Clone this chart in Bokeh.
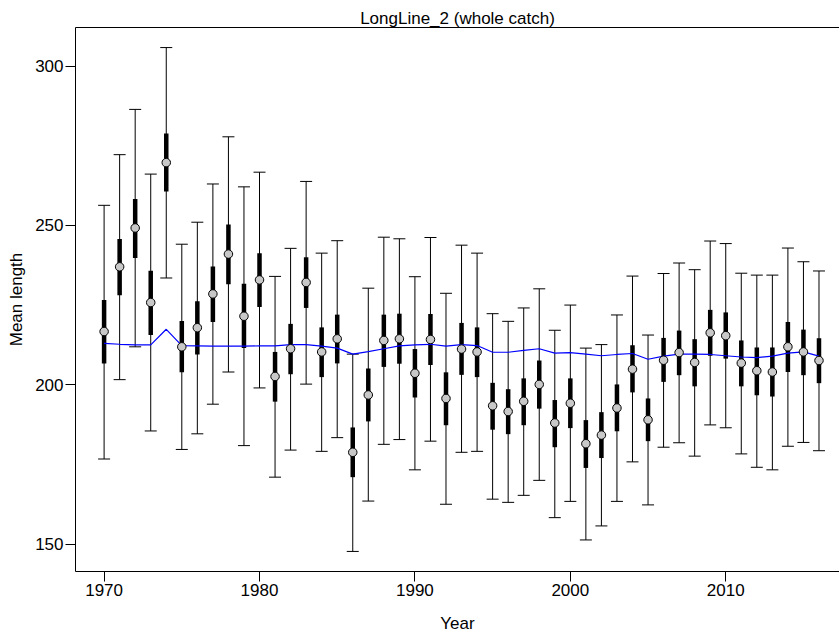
from bokeh.plotting import figure
from bokeh.models import Range1d, FixedTicker, LinearAxis, ColumnDataSource
from bokeh.embed import file_html
from bokeh.resources import INLINE

years = list(range(1970, 2017))
mean_len = [216.7, 237.0, 249.2, 225.8, 269.7, 211.9, 217.9, 228.5, 241.0, 221.5,
            232.9, 202.6, 211.3, 232.1, 210.3, 214.4, 178.8, 196.8, 213.9, 214.4,
            203.6, 214.2, 195.7, 211.2, 210.3, 193.4, 191.6, 194.8, 200.1, 188.0,
            194.2, 181.5, 184.2, 192.7, 204.9, 189.0, 207.7, 210.1, 207.0, 216.3,
            215.4, 206.8, 204.4, 204.0, 211.9, 210.3, 207.6]
inner_hi = [226.6, 245.7, 258.3, 235.8, 278.8, 220.0, 226.2, 237.1, 250.3, 231.7,
            241.3, 210.3, 219.1, 240.0, 218.0, 222.0, 186.6, 205.1, 222.0, 222.3,
            211.2, 222.2, 203.9, 219.4, 218.0, 200.6, 198.6, 202.0, 207.6, 195.2,
            202.0, 188.9, 191.4, 200.1, 212.4, 195.7, 214.7, 217.0, 214.3, 223.5,
            222.7, 213.9, 211.7, 211.7, 219.7, 217.3, 214.6]
inner_lo = [206.7, 228.1, 239.8, 215.6, 260.6, 203.9, 209.5, 219.7, 231.5, 211.5,
            224.4, 194.7, 203.3, 224.1, 202.4, 206.7, 171.0, 188.5, 205.6, 206.6,
            196.0, 206.2, 187.3, 203.1, 202.4, 185.9, 184.5, 187.3, 192.5, 180.4,
            186.4, 173.9, 177.0, 185.4, 197.6, 182.3, 200.9, 203.0, 199.5, 209.1,
            208.2, 199.5, 196.7, 196.3, 204.0, 203.0, 200.5]
outer_hi = [256.3, 272.2, 286.4, 266.1, 305.8, 244.1, 251.0, 263.0, 277.8, 262.1,
            266.7, 234.0, 242.8, 263.8, 241.3, 245.2, 209.6, 230.3, 246.3, 245.8,
            233.9, 246.2, 228.7, 243.8, 241.3, 222.3, 219.9, 224.1, 230.1, 217.1,
            225.0, 211.5, 212.6, 221.9, 234.1, 215.6, 234.9, 238.2, 236.1, 245.1,
            244.3, 235.0, 234.4, 234.4, 242.9, 238.6, 235.7]
outer_lo = [176.7, 201.6, 211.9, 185.5, 233.5, 179.7, 184.6, 193.9, 204.0, 180.9,
            199.0, 171.0, 179.5, 200.2, 179.1, 183.4, 147.7, 163.5, 181.3, 182.8,
            173.3, 182.3, 162.5, 178.8, 179.1, 164.1, 163.1, 165.3, 170.0, 158.3,
            163.4, 151.3, 155.7, 163.4, 175.8, 162.3, 180.4, 181.8, 177.6, 187.4,
            186.5, 178.3, 174.1, 173.3, 180.7, 181.9, 179.3]
expected = [213.0, 212.7, 212.5, 212.5, 217.4, 212.3, 212.2, 212.1, 212.1, 212.1,
            212.2, 212.2, 212.6, 212.6, 212.1, 211.5, 209.6, 210.4, 211.3, 212.2,
            212.5, 212.7, 212.1, 212.6, 212.3, 210.2, 210.2, 210.8, 211.3, 209.9,
            210.1, 209.6, 209.1, 209.5, 209.8, 208.0, 209.0, 209.6, 209.6, 209.5,
            209.1, 208.7, 208.5, 209.0, 209.9, 210.3, 209.0]
x_ticks = [1970, 1980, 1990, 2000, 2010]
y_ticks = [150, 200, 250, 300]

src = ColumnDataSource(dict(year=years, mean=mean_len, ihi=inner_hi, ilo=inner_lo,
                            ohi=outer_hi, olo=outer_lo, exp=expected))

FONT = "Liberation Sans"

p = figure(width=839, height=639, output_backend="svg", toolbar_location=None,
           x_range=Range1d(1968.16, 2017.32), y_range=Range1d(141.4, 312.1),
           min_border_left=75, min_border_right=0, min_border_top=27,
           min_border_bottom=68, title="LongLine_2 (whole catch)")
p.outline_line_color = None
p.grid.visible = False
p.background_fill_color = "white"
p.border_fill_color = "white"

p.title.align = "center"
p.title.text_font = FONT
p.title.text_font_size = "17px"
p.title.text_font_style = "normal"
p.title.text_color = "black"
p.title.standoff = 0

for ax in (p.xaxis[0], p.yaxis[0]):
    ax.major_tick_out = 10
    ax.major_tick_in = 0
    ax.minor_tick_out = 0
    ax.minor_tick_in = 0
    ax.major_label_text_font = FONT
    ax.major_label_text_font_size = "17px"
    ax.major_label_text_color = "black"
    ax.axis_label_text_font = FONT
    ax.axis_label_text_font_size = "17px"
    ax.axis_label_text_font_style = "normal"
    ax.axis_label_text_color = "black"
    ax.axis_line_color = "black"
    ax.major_tick_line_color = "black"
    ax.major_label_standoff = 2

p.xaxis[0].ticker = FixedTicker(ticks=x_ticks)
p.yaxis[0].ticker = FixedTicker(ticks=y_ticks)
p.xaxis[0].axis_label = "Year"
p.yaxis[0].axis_label = "Mean length"
p.xaxis[0].axis_label_standoff = 15
p.yaxis[0].axis_label_standoff = 6

top = LinearAxis(ticker=FixedTicker(ticks=[]), major_tick_out=0, major_tick_in=0,
                 minor_tick_out=0, minor_tick_in=0, major_label_text_font_size="0px",
                 axis_line_color="black")
p.add_layout(top, "above")

# outer intervals
p.segment(x0="year", y0="olo", x1="year", y1="ohi", source=src,
          line_color="black", line_width=1)
p.scatter(x="year", y="ohi", source=src, marker="dash", size=12,
          line_color="black", line_width=1)
p.scatter(x="year", y="olo", source=src, marker="dash", size=12,
          line_color="black", line_width=1)
# inner intervals
p.segment(x0="year", y0="ilo", x1="year", y1="ihi", source=src,
          line_color="black", line_width=4.5, line_cap="butt")
# expected line
p.line(x="year", y="exp", source=src, line_color="#0000ff", line_width=1.2)
# points
p.scatter(x="year", y="mean", source=src, marker="circle", size=8.5,
          fill_color="#c8c8c8", line_color="black", line_width=1)

open("out.html", "w").write(file_html(p, INLINE))
